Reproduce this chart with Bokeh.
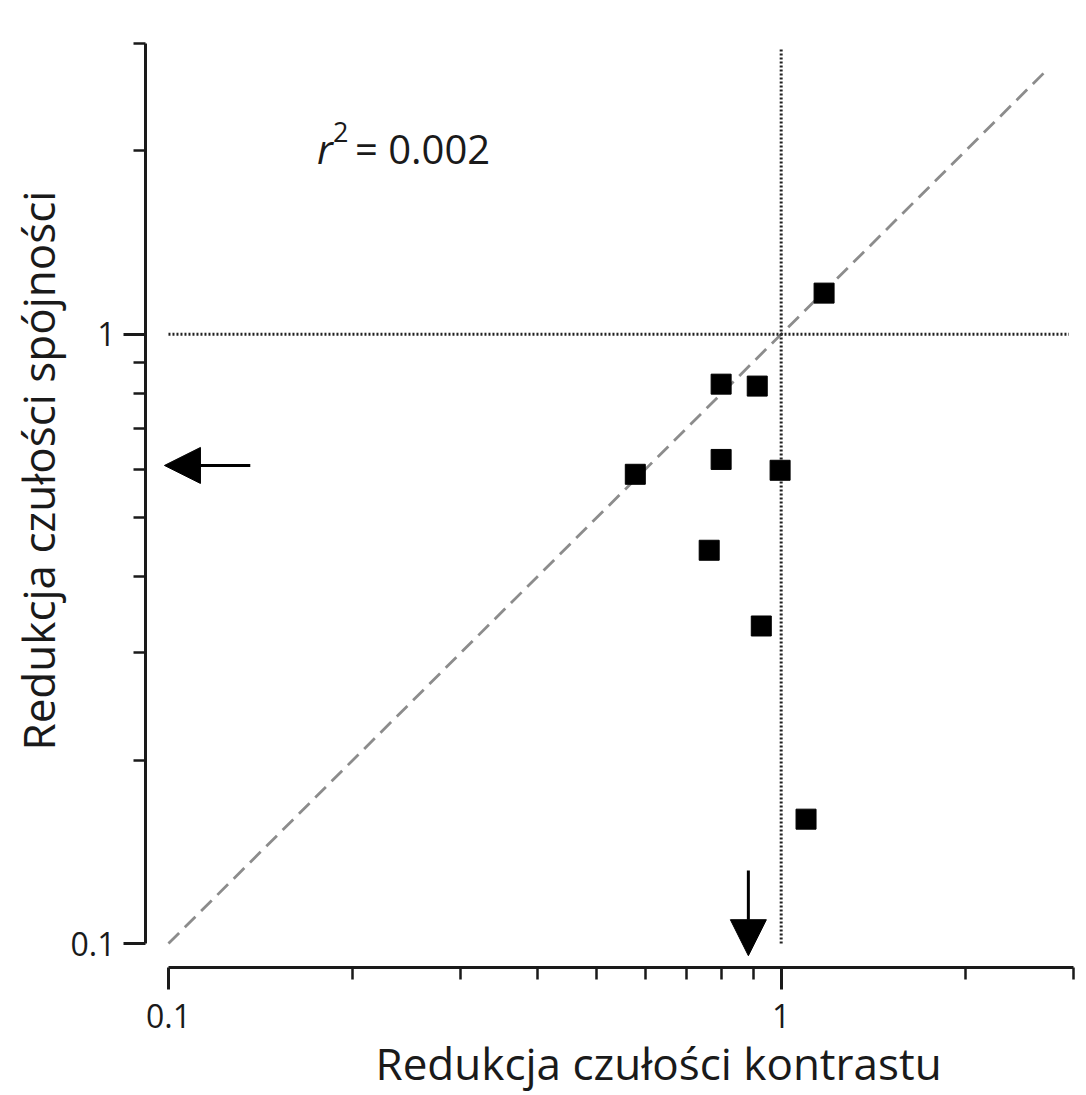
import math
from bokeh.plotting import figure
from bokeh.models import (Range1d, FixedTicker, Label, Arrow, NormalHead, Title)
from bokeh.embed import file_html
from bokeh.resources import INLINE

# ---- data ----
contrast_reduction = [1.175, 0.798, 0.914, 0.798, 0.996, 0.578, 0.763, 0.928, 1.098]
coherence_reduction = [1.168, 0.828, 0.822, 0.623, 0.598, 0.589, 0.442, 0.332, 0.160]
mean_contrast = 0.884
mean_coherence = 0.609
major_ticks = [0.1, 1]
minor_ticks = [0.2, 0.3, 0.4, 0.5, 0.6, 0.7, 0.8, 0.9, 2, 3]
tick_labels = {0.1: "0.1", 1: "1"}
identity_x = [0.1, 2.7]
identity_y = [0.1, 2.7]
ref_lo, ref_hi = 0.1, 2.95
r2_text = "0.002"
x_title = "Redukcja czułości kontrastu"
y_title = "Redukcja czułości spójności"

FONT = "Open Sans"
INK = "#1a1a1a"

p = figure(width=1082, height=1095, x_axis_type="log", y_axis_type="log",
           x_range=Range1d(0.09173, 3.0), y_range=Range1d(0.09134, 3.0),
           output_backend="svg", toolbar_location=None,
           frame_width=928, frame_height=924,
           min_border_left=145, min_border_top=43, min_border_right=9,
           min_border_bottom=128)
p.outline_line_color = None
p.grid.visible = False
p.background_fill_color = "white"
p.border_fill_color = "white"

for ax in (p.xaxis[0], p.yaxis[0]):
    ax.bounds = (0.1, 3.0)
    ax.ticker = FixedTicker(ticks=major_ticks, minor_ticks=minor_ticks)
    ax.major_label_overrides = tick_labels
    ax.axis_line_width = 3
    ax.axis_line_color = INK
    ax.major_tick_line_width = 3
    ax.minor_tick_line_width = 2.5
    ax.major_tick_line_color = INK
    ax.minor_tick_line_color = INK
    ax.major_tick_in = 0
    ax.minor_tick_in = 0
    ax.major_tick_out = 22
    ax.minor_tick_out = 12
    ax.major_label_text_font = FONT
    ax.major_label_text_font_size = "32px"
    ax.major_label_text_color = INK
    ax.axis_label = None

p.xaxis.major_label_standoff = 14
p.yaxis.major_label_standoff = 8
p.yaxis.major_label_orientation = "horizontal"

# axis titles
p.add_layout(Title(text=x_title, align="left", offset=230, text_font=FONT,
                   text_font_size="44px", text_font_style="normal", text_color=INK,
                   standoff=0), "below")
p.add_layout(Title(text=y_title, align="left", offset=217, text_font=FONT,
                   text_font_size="44px", text_font_style="normal", text_color=INK,
                   standoff=0), "left")

# reference lines
p.line(identity_x, identity_y, line_color="#8c8c8c", line_width=2.8, line_dash="15 8")
p.line([ref_lo, ref_hi], [1, 1], line_color="#222222", line_width=3, line_dash="2 2")
p.line([1, 1], [ref_lo, ref_hi], line_color="#222222", line_width=3, line_dash="2 2")

# data
p.scatter(contrast_reduction, coherence_reduction, marker="square", size=20,
          fill_color="black", line_color="black")

# mean arrows
p.add_layout(Arrow(end=NormalHead(size=36, fill_color="black", line_color="black"),
                   x_start=0.136, y_start=mean_coherence,
                   x_end=0.0985, y_end=mean_coherence,
                   line_width=3, line_color="black"))
p.add_layout(Arrow(end=NormalHead(size=36, fill_color="black", line_color="black"),
                   x_start=mean_contrast, y_start=0.1318,
                   x_end=mean_contrast, y_end=0.0955,
                   line_width=3, line_color="black"))

# r^2 annotation
p.add_layout(Label(x=0.176, y=2.02, x_offset=-2, text="r", text_font=FONT,
                   text_font_style="italic",
                   text_font_size="40px", text_color=INK, text_baseline="alphabetic"))
p.add_layout(Label(x=0.176, y=2.02, x_offset=14, y_offset=16, text="2", text_font=FONT,
                   text_font_size="27px", text_color=INK, text_baseline="alphabetic"))
p.add_layout(Label(x=0.176, y=2.02, x_offset=36, text="= " + r2_text, text_font=FONT,
                   text_font_size="40px", text_color=INK, text_baseline="alphabetic"))

open("out.html", "w").write(file_html(p, INLINE))
